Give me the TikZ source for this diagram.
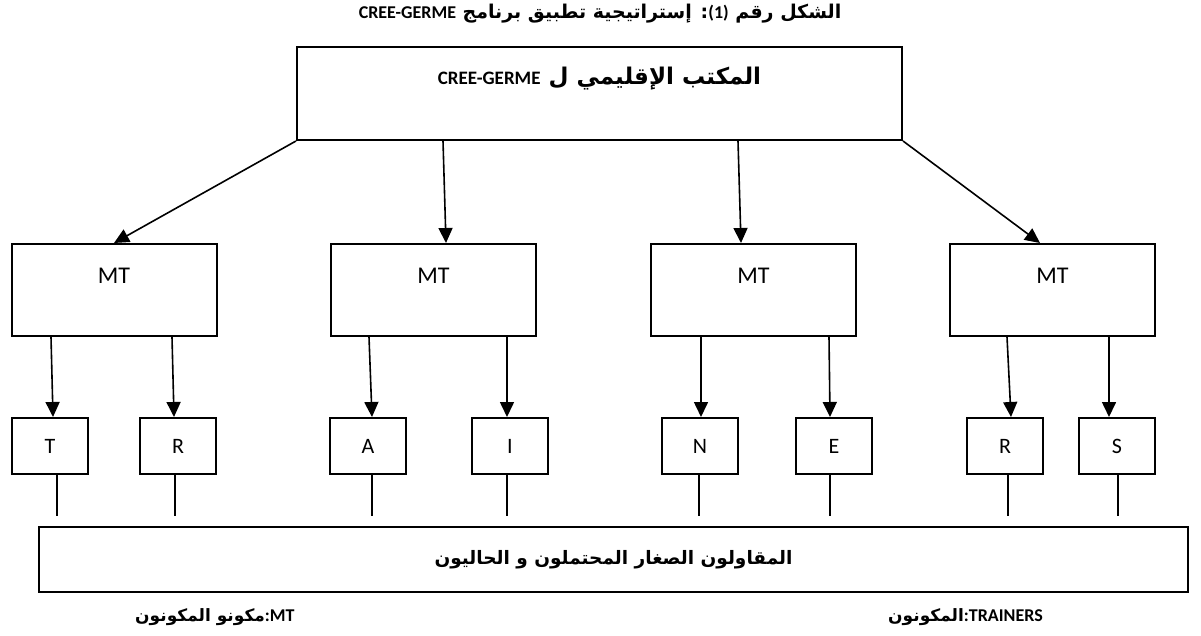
\documentclass[tikz,border=0pt]{standalone}
\usepackage{fontspec}
\setmainfont{Carlito}
\newfontfamily\arabicfont[Script=Arabic]{DejaVu Sans}
\TeXXeTstate=1
\usetikzlibrary{arrows.meta}
\tikzset{
  box-big/.style={draw,line width=2pt,minimum width=605pt,minimum height=93pt,inner sep=0pt},
  box-mt/.style={draw,line width=2pt,minimum width=205pt,minimum height=92pt,inner sep=0pt},
  box-letter/.style={draw,line width=2pt,minimum width=76pt,minimum height=56pt,
    inner sep=0pt,font=\fontsize{22}{24}\selectfont},
  box-base/.style={draw,line width=2.4pt,minimum width=1149pt,minimum height=65pt,inner sep=0pt},
  top-text/.style={anchor=center,yshift=-33pt,inner sep=0pt},
  txt-ar/.style={inner sep=0pt,font=\arabicfont\bfseries\fontsize{#1}{#1}\selectfont},
  txt-ar/.default=17,
  arrow/.style={-{Triangle[length=15pt,width=14pt]},line width=1.6pt},
  stub/.style={line width=1.6pt},
}
\newcommand{\lat}[2][19]{\beginL{\rmfamily\bfseries\fontsize{#1}{#1}\selectfont #2}\endL}

\begin{document}
\begin{tikzpicture}[x=1pt,y=-1pt]
  \useasboundingbox (0,0) rectangle (1201,636);
  \node[txt-ar=19] (title) at (600,14)
    {\beginR الشكل رقم \lat[18]{(1)}: إستراتيجية تطبيق برنامج \lat[18]{CREE-GERME}\endR};
  \node[box-big] (office) at (599.5,93.5) {};
  \node[txt-ar=23] (office-txt) at ([yshift=-33pt]office.north)
    {\beginR المكتب الإقليمي ل \lat{CREE-GERME}\endR};
  \foreach \name/\x in {mt1/114, mt2/433.5, mt3/753.5, mt4/1052.5}
    \node[box-mt,label={[top-text,font=\fontsize{24}{26}\selectfont]north:MT}] (\name) at (\x,290) {};
  \draw[arrow] (office.south west) -- (mt1.north);
  \draw[arrow] (office.south -| 443,0) -- (mt2.north -| 446,0);
  \draw[arrow] (office.south -| 738,0) -- (mt3.north -| 741,0);
  \draw[arrow] (office.south east) -- (mt4.north -| 1040,0);
  \node[box-base] (base) at (613.5,559.5) {};
  \coordinate (base-top) at ([yshift=10pt]base.north);
  \node[txt-ar=18.5] (base-txt) at (base.center)
    {\beginR المقاولون الصغار المحتملون و الحاليون\endR};
  % letters T-R-A-I-N-E-R-S
  \foreach \name/\lbl/\cx/\ax/\bx/\lx/\up in {
      t/T/50/51/53/57/mt1, r1/R/178/172/174/175/mt1,
      a/A/368/369/372/372/mt2, i/I/510/507/507/507/mt2,
      n/N/700/701/701/699/mt3, e/E/834/829/830/830/mt3,
      r2/R/1005/1007/1011/1008/mt4, s/S/1117/1109/1109/1118/mt4} {
    \node[box-letter] (\name) at (\cx,446) {\lbl};
    \draw[arrow] (\up.south -| \ax,0) -- (\name.north -| \bx,0);
    \draw[stub] (\name.south -| \lx,0) -- (base-top -| \lx,0);
  }
  \node[txt-ar,anchor=west] (leg-mt) at (135,617)
    {\beginR مكونو المكونون\endR\lat[18]{:MT}};
  \node[txt-ar,anchor=west] (leg-tr) at (888,617)
    {\beginR المكونون\endR\lat[18]{:TRAINERS}};
\end{tikzpicture}
\end{document}
